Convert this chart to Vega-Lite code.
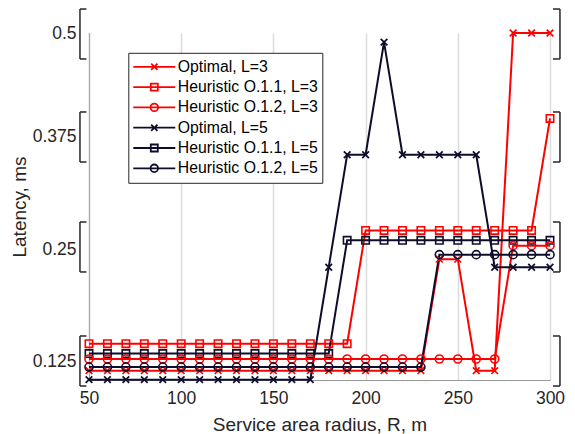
{
  "$schema": "https://vega.github.io/schema/vega-lite/v6.json",
  "autosize": {"type": "none"},
  "width": 461,
  "height": 347,
  "padding": {"left": 89, "top": 33, "right": 25, "bottom": 54},
  "background": "white",
  "config": {
    "view": {"stroke": null},
    "font": "Liberation Sans"
  },
  "datasets": {
    "main": [
      {"s":"Optimal, L=3","r":50,"l":0.115},{"s":"Optimal, L=3","r":60,"l":0.115},{"s":"Optimal, L=3","r":70,"l":0.115},{"s":"Optimal, L=3","r":80,"l":0.115},{"s":"Optimal, L=3","r":90,"l":0.115},{"s":"Optimal, L=3","r":100,"l":0.115},{"s":"Optimal, L=3","r":110,"l":0.115},{"s":"Optimal, L=3","r":120,"l":0.115},{"s":"Optimal, L=3","r":130,"l":0.115},{"s":"Optimal, L=3","r":140,"l":0.115},{"s":"Optimal, L=3","r":150,"l":0.115},{"s":"Optimal, L=3","r":160,"l":0.115},{"s":"Optimal, L=3","r":170,"l":0.115},{"s":"Optimal, L=3","r":180,"l":0.115},{"s":"Optimal, L=3","r":190,"l":0.115},{"s":"Optimal, L=3","r":200,"l":0.115},{"s":"Optimal, L=3","r":210,"l":0.115},{"s":"Optimal, L=3","r":220,"l":0.115},{"s":"Optimal, L=3","r":230,"l":0.115},{"s":"Optimal, L=3","r":240,"l":0.239},{"s":"Optimal, L=3","r":250,"l":0.239},{"s":"Optimal, L=3","r":260,"l":0.115},{"s":"Optimal, L=3","r":270,"l":0.115},{"s":"Optimal, L=3","r":280,"l":0.5},{"s":"Optimal, L=3","r":290,"l":0.5},{"s":"Optimal, L=3","r":300,"l":0.5},
      {"s":"Heuristic O.1.1, L=3","r":50,"l":0.145},{"s":"Heuristic O.1.1, L=3","r":60,"l":0.145},{"s":"Heuristic O.1.1, L=3","r":70,"l":0.145},{"s":"Heuristic O.1.1, L=3","r":80,"l":0.145},{"s":"Heuristic O.1.1, L=3","r":90,"l":0.145},{"s":"Heuristic O.1.1, L=3","r":100,"l":0.145},{"s":"Heuristic O.1.1, L=3","r":110,"l":0.145},{"s":"Heuristic O.1.1, L=3","r":120,"l":0.145},{"s":"Heuristic O.1.1, L=3","r":130,"l":0.145},{"s":"Heuristic O.1.1, L=3","r":140,"l":0.145},{"s":"Heuristic O.1.1, L=3","r":150,"l":0.145},{"s":"Heuristic O.1.1, L=3","r":160,"l":0.145},{"s":"Heuristic O.1.1, L=3","r":170,"l":0.145},{"s":"Heuristic O.1.1, L=3","r":180,"l":0.145},{"s":"Heuristic O.1.1, L=3","r":190,"l":0.145},{"s":"Heuristic O.1.1, L=3","r":200,"l":0.271},{"s":"Heuristic O.1.1, L=3","r":210,"l":0.271},{"s":"Heuristic O.1.1, L=3","r":220,"l":0.271},{"s":"Heuristic O.1.1, L=3","r":230,"l":0.271},{"s":"Heuristic O.1.1, L=3","r":240,"l":0.271},{"s":"Heuristic O.1.1, L=3","r":250,"l":0.271},{"s":"Heuristic O.1.1, L=3","r":260,"l":0.271},{"s":"Heuristic O.1.1, L=3","r":270,"l":0.271},{"s":"Heuristic O.1.1, L=3","r":280,"l":0.271},{"s":"Heuristic O.1.1, L=3","r":290,"l":0.271},{"s":"Heuristic O.1.1, L=3","r":300,"l":0.397},
      {"s":"Heuristic O.1.2, L=3","r":50,"l":0.128},{"s":"Heuristic O.1.2, L=3","r":60,"l":0.128},{"s":"Heuristic O.1.2, L=3","r":70,"l":0.128},{"s":"Heuristic O.1.2, L=3","r":80,"l":0.128},{"s":"Heuristic O.1.2, L=3","r":90,"l":0.128},{"s":"Heuristic O.1.2, L=3","r":100,"l":0.128},{"s":"Heuristic O.1.2, L=3","r":110,"l":0.128},{"s":"Heuristic O.1.2, L=3","r":120,"l":0.128},{"s":"Heuristic O.1.2, L=3","r":130,"l":0.128},{"s":"Heuristic O.1.2, L=3","r":140,"l":0.128},{"s":"Heuristic O.1.2, L=3","r":150,"l":0.128},{"s":"Heuristic O.1.2, L=3","r":160,"l":0.128},{"s":"Heuristic O.1.2, L=3","r":170,"l":0.128},{"s":"Heuristic O.1.2, L=3","r":180,"l":0.128},{"s":"Heuristic O.1.2, L=3","r":190,"l":0.128},{"s":"Heuristic O.1.2, L=3","r":200,"l":0.128},{"s":"Heuristic O.1.2, L=3","r":210,"l":0.128},{"s":"Heuristic O.1.2, L=3","r":220,"l":0.128},{"s":"Heuristic O.1.2, L=3","r":230,"l":0.128},{"s":"Heuristic O.1.2, L=3","r":240,"l":0.128},{"s":"Heuristic O.1.2, L=3","r":250,"l":0.128},{"s":"Heuristic O.1.2, L=3","r":260,"l":0.128},{"s":"Heuristic O.1.2, L=3","r":270,"l":0.128},{"s":"Heuristic O.1.2, L=3","r":280,"l":0.254},{"s":"Heuristic O.1.2, L=3","r":290,"l":0.254},{"s":"Heuristic O.1.2, L=3","r":300,"l":0.254},
      {"s":"Optimal, L=5","r":50,"l":0.105},{"s":"Optimal, L=5","r":60,"l":0.105},{"s":"Optimal, L=5","r":70,"l":0.105},{"s":"Optimal, L=5","r":80,"l":0.105},{"s":"Optimal, L=5","r":90,"l":0.105},{"s":"Optimal, L=5","r":100,"l":0.105},{"s":"Optimal, L=5","r":110,"l":0.105},{"s":"Optimal, L=5","r":120,"l":0.105},{"s":"Optimal, L=5","r":130,"l":0.105},{"s":"Optimal, L=5","r":140,"l":0.105},{"s":"Optimal, L=5","r":150,"l":0.105},{"s":"Optimal, L=5","r":160,"l":0.105},{"s":"Optimal, L=5","r":170,"l":0.105},{"s":"Optimal, L=5","r":180,"l":0.23},{"s":"Optimal, L=5","r":190,"l":0.355},{"s":"Optimal, L=5","r":200,"l":0.355},{"s":"Optimal, L=5","r":210,"l":0.489},{"s":"Optimal, L=5","r":220,"l":0.355},{"s":"Optimal, L=5","r":230,"l":0.355},{"s":"Optimal, L=5","r":240,"l":0.355},{"s":"Optimal, L=5","r":250,"l":0.355},{"s":"Optimal, L=5","r":260,"l":0.355},{"s":"Optimal, L=5","r":270,"l":0.23},{"s":"Optimal, L=5","r":280,"l":0.23},{"s":"Optimal, L=5","r":290,"l":0.23},{"s":"Optimal, L=5","r":300,"l":0.23},
      {"s":"Heuristic O.1.1, L=5","r":50,"l":0.134},{"s":"Heuristic O.1.1, L=5","r":60,"l":0.134},{"s":"Heuristic O.1.1, L=5","r":70,"l":0.134},{"s":"Heuristic O.1.1, L=5","r":80,"l":0.134},{"s":"Heuristic O.1.1, L=5","r":90,"l":0.134},{"s":"Heuristic O.1.1, L=5","r":100,"l":0.134},{"s":"Heuristic O.1.1, L=5","r":110,"l":0.134},{"s":"Heuristic O.1.1, L=5","r":120,"l":0.134},{"s":"Heuristic O.1.1, L=5","r":130,"l":0.134},{"s":"Heuristic O.1.1, L=5","r":140,"l":0.134},{"s":"Heuristic O.1.1, L=5","r":150,"l":0.134},{"s":"Heuristic O.1.1, L=5","r":160,"l":0.134},{"s":"Heuristic O.1.1, L=5","r":170,"l":0.134},{"s":"Heuristic O.1.1, L=5","r":180,"l":0.134},{"s":"Heuristic O.1.1, L=5","r":190,"l":0.26},{"s":"Heuristic O.1.1, L=5","r":200,"l":0.26},{"s":"Heuristic O.1.1, L=5","r":210,"l":0.26},{"s":"Heuristic O.1.1, L=5","r":220,"l":0.26},{"s":"Heuristic O.1.1, L=5","r":230,"l":0.26},{"s":"Heuristic O.1.1, L=5","r":240,"l":0.26},{"s":"Heuristic O.1.1, L=5","r":250,"l":0.26},{"s":"Heuristic O.1.1, L=5","r":260,"l":0.26},{"s":"Heuristic O.1.1, L=5","r":270,"l":0.26},{"s":"Heuristic O.1.1, L=5","r":280,"l":0.26},{"s":"Heuristic O.1.1, L=5","r":290,"l":0.26},{"s":"Heuristic O.1.1, L=5","r":300,"l":0.26},
      {"s":"Heuristic O.1.2, L=5","r":50,"l":0.119},{"s":"Heuristic O.1.2, L=5","r":60,"l":0.119},{"s":"Heuristic O.1.2, L=5","r":70,"l":0.119},{"s":"Heuristic O.1.2, L=5","r":80,"l":0.119},{"s":"Heuristic O.1.2, L=5","r":90,"l":0.119},{"s":"Heuristic O.1.2, L=5","r":100,"l":0.119},{"s":"Heuristic O.1.2, L=5","r":110,"l":0.119},{"s":"Heuristic O.1.2, L=5","r":120,"l":0.119},{"s":"Heuristic O.1.2, L=5","r":130,"l":0.119},{"s":"Heuristic O.1.2, L=5","r":140,"l":0.119},{"s":"Heuristic O.1.2, L=5","r":150,"l":0.119},{"s":"Heuristic O.1.2, L=5","r":160,"l":0.119},{"s":"Heuristic O.1.2, L=5","r":170,"l":0.119},{"s":"Heuristic O.1.2, L=5","r":180,"l":0.119},{"s":"Heuristic O.1.2, L=5","r":190,"l":0.119},{"s":"Heuristic O.1.2, L=5","r":200,"l":0.119},{"s":"Heuristic O.1.2, L=5","r":210,"l":0.119},{"s":"Heuristic O.1.2, L=5","r":220,"l":0.119},{"s":"Heuristic O.1.2, L=5","r":230,"l":0.119},{"s":"Heuristic O.1.2, L=5","r":240,"l":0.244},{"s":"Heuristic O.1.2, L=5","r":250,"l":0.244},{"s":"Heuristic O.1.2, L=5","r":260,"l":0.244},{"s":"Heuristic O.1.2, L=5","r":270,"l":0.244},{"s":"Heuristic O.1.2, L=5","r":280,"l":0.244},{"s":"Heuristic O.1.2, L=5","r":290,"l":0.244},{"s":"Heuristic O.1.2, L=5","r":300,"l":0.244}
    ],
    "brackets": [
      {"lo": 0.4687, "hi": 0.5289},
      {"lo": 0.3469, "hi": 0.4048},
      {"lo": 0.2248, "hi": 0.2803},
      {"lo": 0.0979, "hi": 0.1536}
    ]
  },
  "layer": [
    {
      "data": {"name": "main"},
      "mark": {"type": "line", "strokeWidth": 2, "clip": false},
      "encoding": {
        "x": {
          "field": "r", "type": "quantitative",
          "scale": {"domain": [50, 300], "nice": false, "zero": false},
          "axis": {
            "title": "Service area radius, R, m",
            "values": [50, 100, 150, 200, 250, 300],
            "grid": true, "gridColor": "#dcdcdc", "gridWidth": 1.5,
            "ticks": false, "labelPadding": 9, "labelFlush": false, "labelOverlap": false,
            "domainColor": "#9a9a9a", "domainWidth": 1.2,
            "labelFont": "Liberation Sans", "labelFontSize": 17.5, "labelColor": "#262626",
            "titleFont": "Liberation Sans", "titleFontSize": 19, "titleFontWeight": "normal", "titleColor": "#262626", "titlePadding": 8.5
          }
        },
        "y": {
          "field": "l", "type": "quantitative",
          "scale": {"domain": [0.1046, 0.125, 0.25, 0.375, 0.5], "range": [347, 328.7, 216.3, 103.7, 0], "nice": false, "zero": false},
          "axis": {
            "title": "Latency, ms",
            "values": [0.125, 0.25, 0.375, 0.5], "format": ".3~f",
            "grid": false, "ticks": false, "labelPadding": 13, "labelOverlap": false,
            "domainColor": "#707070", "domainDash": [1, 1], "domainWidth": 1.2,
            "labelFont": "Liberation Sans", "labelFontSize": 17.5, "labelColor": "#262626",
            "titleFont": "Liberation Sans", "titleFontSize": 19, "titleFontWeight": "normal", "titleColor": "#262626", "titlePadding": 3
          }
        },
        "color": {
          "field": "s", "type": "nominal",
          "scale": {
            "domain": ["Optimal, L=3", "Heuristic O.1.1, L=3", "Heuristic O.1.2, L=3", "Optimal, L=5", "Heuristic O.1.1, L=5", "Heuristic O.1.2, L=5"],
            "range": ["#ff0000", "#ff0000", "#ff0000", "#0d0d2b", "#0d0d2b", "#0d0d2b"]
          },
          "legend": {
            "title": null, "orient": "none", "legendX": 39.3, "legendY": 19.8,
            "symbolSize": 1764, "symbolStrokeWidth": 1.8, "clipHeight": 20, "rowPadding": 0.3,
            "padding": 4, "labelOffset": 1.5, "symbolOffset": 0,
            "strokeColor": "#262626", "fillColor": "white", "cornerRadius": 0,
            "labelFont": "Liberation Sans", "labelFontSize": 15.8, "labelColor": "black", "labelLimit": 400
          }
        },
        "detail": {"field": "s"}
      }
    },
    {
      "data": {"name": "main"},
      "transform": [{"filter": {"field": "s", "oneOf": ["Optimal, L=3", "Optimal, L=5"]}}],
      "mark": {"type": "point", "filled": false, "size": 90, "strokeWidth": 1.7, "opacity": 1, "clip": false, "shape": "M-0.7,-0.7L0.7,0.7M-0.7,0.7L0.7,-0.7"},
      "encoding": {
        "x": {"field": "r", "type": "quantitative"},
        "y": {"field": "l", "type": "quantitative"},
        "color": {
          "field": "s", "type": "nominal",
          "legend": {
            "title": null, "orient": "none", "legendX": 39.3, "legendY": 19.8,
            "symbolSize": 1764, "symbolStrokeWidth": 1.8, "clipHeight": 20, "rowPadding": 0.3,
            "padding": 4, "labelOffset": 1.5, "symbolOffset": 0,
            "strokeColor": "#262626", "fillColor": "white", "cornerRadius": 0,
            "labelFont": "Liberation Sans", "labelFontSize": 15.8, "labelColor": "black", "labelLimit": 400
          }
        }
      }
    },
    {
      "data": {"name": "main"},
      "transform": [{"filter": {"field": "s", "oneOf": ["Heuristic O.1.1, L=3", "Heuristic O.1.1, L=5"]}}],
      "mark": {"type": "point", "filled": false, "size": 90, "strokeWidth": 1.6, "opacity": 1, "clip": false, "shape": "M-0.78,-0.78L0.78,-0.78L0.78,0.78L-0.78,0.78Z"},
      "encoding": {
        "x": {"field": "r", "type": "quantitative"},
        "y": {"field": "l", "type": "quantitative"},
        "color": {
          "field": "s", "type": "nominal",
          "legend": {
            "title": null, "orient": "none", "legendX": 39.3, "legendY": 19.8,
            "symbolSize": 1764, "symbolStrokeWidth": 1.8, "clipHeight": 20, "rowPadding": 0.3,
            "padding": 4, "labelOffset": 1.5, "symbolOffset": 0,
            "strokeColor": "#262626", "fillColor": "white", "cornerRadius": 0,
            "labelFont": "Liberation Sans", "labelFontSize": 15.8, "labelColor": "black", "labelLimit": 400
          }
        }
      }
    },
    {
      "data": {"name": "main"},
      "transform": [{"filter": {"field": "s", "oneOf": ["Heuristic O.1.2, L=3", "Heuristic O.1.2, L=5"]}}],
      "mark": {"type": "point", "filled": false, "size": 90, "strokeWidth": 1.6, "opacity": 1, "clip": false, "shape": "M0.85,0A0.85,0.85 0 1,1 -0.85,0A0.85,0.85 0 1,1 0.85,0Z"},
      "encoding": {
        "x": {"field": "r", "type": "quantitative"},
        "y": {"field": "l", "type": "quantitative"},
        "color": {
          "field": "s", "type": "nominal",
          "legend": {
            "title": null, "orient": "none", "legendX": 39.3, "legendY": 19.8,
            "symbolSize": 1764, "symbolStrokeWidth": 1.8, "clipHeight": 20, "rowPadding": 0.3,
            "padding": 4, "labelOffset": 1.5, "symbolOffset": 0,
            "strokeColor": "#262626", "fillColor": "white", "cornerRadius": 0,
            "labelFont": "Liberation Sans", "labelFontSize": 15.8, "labelColor": "black", "labelLimit": 400
          }
        }
      }
    },
    {
      "data": {"name": "main"},
      "transform": [{"filter": "datum.r < 0"}],
      "mark": {"type": "point", "filled": false, "strokeWidth": 1.8, "clip": false},
      "encoding": {
        "x": {"field": "r", "type": "quantitative"},
        "y": {"field": "l", "type": "quantitative"},
        "color": {
          "field": "s", "type": "nominal",
          "legend": {
            "title": null, "orient": "none", "legendX": 39.3, "legendY": 19.8,
            "symbolSize": 1764, "symbolStrokeWidth": 1.8, "clipHeight": 20, "rowPadding": 0.3,
            "padding": 4, "labelOffset": 1.5, "symbolOffset": 0,
            "strokeColor": "#262626", "fillColor": "white", "cornerRadius": 0,
            "labelFont": "Liberation Sans", "labelFontSize": 15.8, "labelColor": "black", "labelLimit": 400
          }
        },
        "shape": {
          "field": "s", "type": "nominal",
          "scale": {
            "domain": ["Optimal, L=3", "Heuristic O.1.1, L=3", "Heuristic O.1.2, L=3", "Optimal, L=5", "Heuristic O.1.1, L=5", "Heuristic O.1.2, L=5"],
            "range": [
              "M-1,0L1,0M-0.15,-0.15L0.15,0.15M-0.15,0.15L0.15,-0.15",
              "M-1,0L1,0M-0.167,-0.167L0.167,-0.167L0.167,0.167L-0.167,0.167Z",
              "M-1,0L1,0M0.18,0A0.18,0.18 0 1,1 -0.18,0A0.18,0.18 0 1,1 0.18,0Z",
              "M-1,0L1,0M-0.15,-0.15L0.15,0.15M-0.15,0.15L0.15,-0.15",
              "M-1,0L1,0M-0.167,-0.167L0.167,-0.167L0.167,0.167L-0.167,0.167Z",
              "M-1,0L1,0M0.18,0A0.18,0.18 0 1,1 -0.18,0A0.18,0.18 0 1,1 0.18,0Z"
            ]
          },
          "legend": {
            "title": null, "orient": "none", "legendX": 39.3, "legendY": 19.8,
            "symbolSize": 1764, "symbolStrokeWidth": 1.8, "clipHeight": 20, "rowPadding": 0.3,
            "padding": 4, "labelOffset": 1.5, "symbolOffset": 0,
            "strokeColor": "#262626", "fillColor": "white", "cornerRadius": 0,
            "labelFont": "Liberation Sans", "labelFontSize": 15.8, "labelColor": "black", "labelLimit": 400
          }
        }
      }
    },
    {
      "data": {"name": "brackets"},
      "mark": {"type": "rule", "color": "#262626", "strokeWidth": 1.5, "clip": false},
      "encoding": {
        "x": {"datum": 45.1, "type": "quantitative"},
        "y": {"field": "lo", "type": "quantitative"},
        "y2": {"field": "hi"}
      }
    },
    {
      "data": {"name": "brackets"},
      "transform": [{"fold": ["lo", "hi"], "as": ["k", "v"]}],
      "mark": {"type": "rule", "color": "#262626", "strokeWidth": 1.5, "clip": false},
      "encoding": {
        "x": {"datum": 45.1, "type": "quantitative"},
        "x2": {"datum": 48.6},
        "y": {"field": "v", "type": "quantitative"}
      }
    },
    {
      "data": {"name": "brackets"},
      "mark": {"type": "rule", "color": "#262626", "strokeWidth": 1.5, "clip": false},
      "encoding": {
        "x": {"datum": 305.4, "type": "quantitative"},
        "y": {"field": "lo", "type": "quantitative"},
        "y2": {"field": "hi"}
      }
    },
    {
      "data": {"name": "brackets"},
      "transform": [{"fold": ["lo", "hi"], "as": ["k", "v"]}],
      "mark": {"type": "rule", "color": "#262626", "strokeWidth": 1.5, "clip": false},
      "encoding": {
        "x": {"datum": 301.6, "type": "quantitative"},
        "x2": {"datum": 305.4},
        "y": {"field": "v", "type": "quantitative"}
      }
    }
  ]
}
